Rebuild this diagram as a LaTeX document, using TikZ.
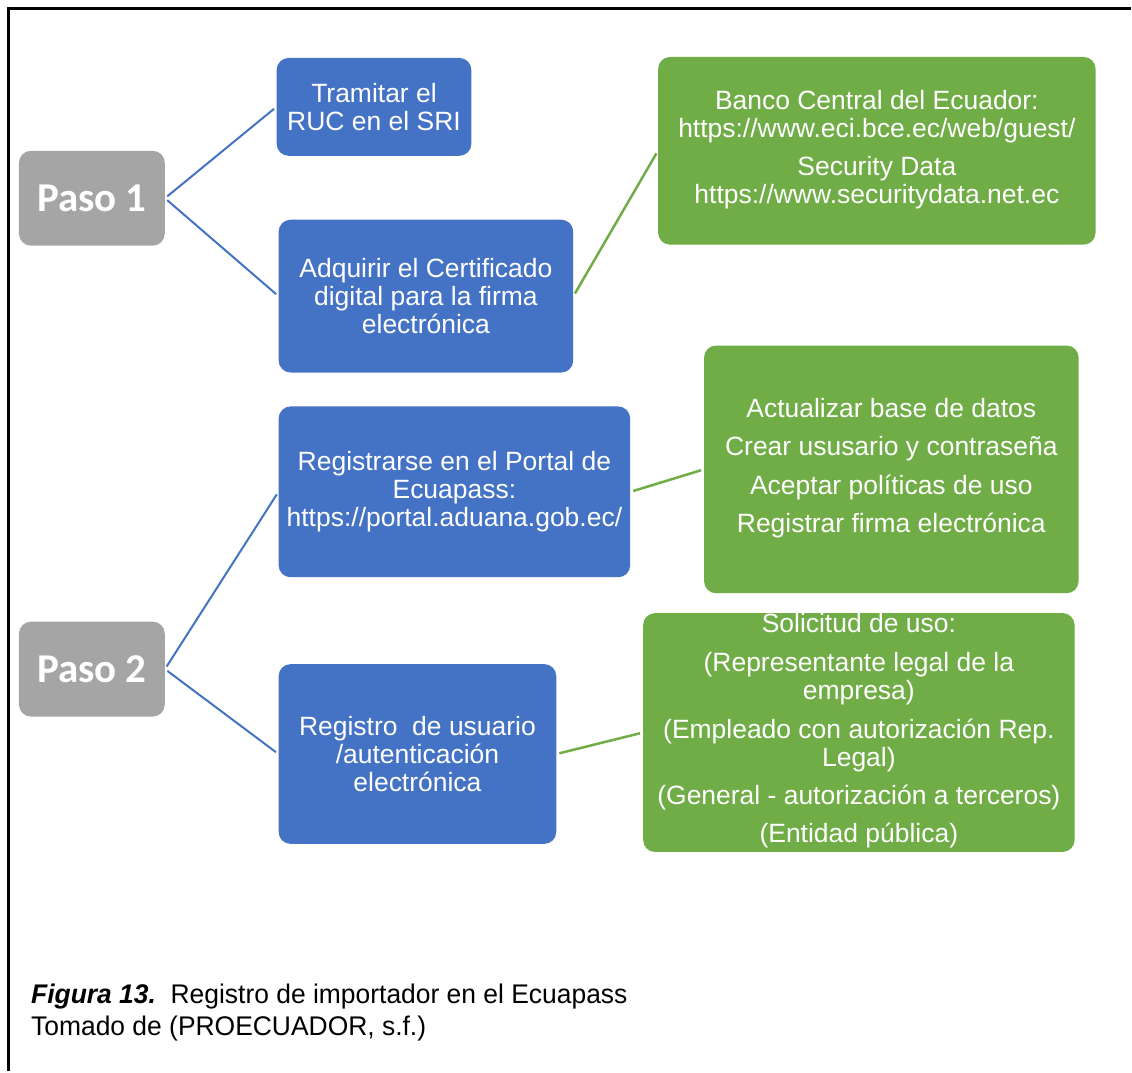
\documentclass[tikz,border=0pt]{standalone}
\usepackage{fontspec}
\setmainfont{Liberation Sans}
\newfontfamily\pasofont{Carlito}
\newfontfamily\capfont[FakeStretch=0.98]{Liberation Sans}
\definecolor{azul}{HTML}{4472C4}
\definecolor{verde}{HTML}{70AD47}
\definecolor{gris}{HTML}{A5A5A5}
\begin{document}
\begin{tikzpicture} [x=1pt, y=-1pt,
	caja/.style={rounded corners=12pt, inner sep=0pt, align=center, text=white, font=\fontsize{26.5}{28}\selectfont},
	paso/.style={caja, fill=gris, minimum width=146pt, minimum height=95pt, font=\pasofont\bfseries\fontsize{41}{44}\selectfont},
	tarea/.style={caja, fill=azul},
	detalle/.style={caja, fill=verde},
	enlace/.style={draw=azul, line width=2pt, shorten <=3pt, shorten >=3pt},
	enlaceverde/.style={enlace, draw=verde, line width=2.5pt}]
	\fill [white] (0,0) rectangle (1132,1072);
	\draw [line width=3pt] (1132,9) -- (9,9) -- (9,1072);
	% pasos
	\node [paso] (paso1) at (92,198.5) {Paso 1};
	\node [paso] (paso2) at (92,670) {Paso 2};
	% tareas
	\node [tarea, minimum width=195pt, minimum height=98pt] (ruc) at (374.5,107) {Tramitar el\\RUC en el SRI};
	\node [tarea, minimum width=295pt, minimum height=153pt] (certificado) at (426.5,296.5) {Adquirir el Certificado\\digital para la firma\\electrónica};
	\node [tarea, minimum width=352pt, minimum height=171pt] (portal) at (455,492.5) {Registrarse en el Portal de\\Ecuapass:\\https://portal.aduana.gob.ec/};
	\node [tarea, minimum width=278pt, minimum height=180pt] (usuario) at (418,755) {Registro\ \ de usuario\\/autenticación\\electrónica};
	% detalles
	\node [detalle, minimum width=438pt, minimum height=188pt, text depth=8pt] (banco) at (878,151) {Banco Central del Ecuador:\\https://www.eci.bce.ec/web/guest/\\[10pt]Security Data\\https://www.securitydata.net.ec};
	\node [detalle, minimum width=375pt, minimum height=248pt, text depth=8pt] (datos) at (892.5,470) {Actualizar base de datos\\[10.5pt]Crear ususario y contraseña\\[10.5pt]Aceptar políticas de uso\\[10.5pt]Registrar firma electrónica};
	\node [detalle, minimum width=432pt, minimum height=235pt, text depth=9pt] (solicitud) at (860,733.5) {Solicitud de uso:\\[11pt](Representante legal de la\\empresa)\\[11pt](Empleado con autorización Rep.\\Legal)\\[10.5pt](General - autorización a terceros)\\[10.5pt](Entidad pública)};
	% enlaces
	\draw [enlace] (paso1.east) -- (ruc.west);
	\draw [enlace] (paso1.east) -- (certificado.west);
	\draw [enlace] (paso2.east) -- (portal.west);
	\draw [enlace] (paso2.east) -- (usuario.west);
	\draw [enlaceverde] (certificado.east) -- (banco.west);
	\draw [enlaceverde] (portal.east) -- (datos.west);
	\draw [enlaceverde] (usuario.east) -- (solicitud.west);
	% pie de figura
	\node [anchor=north west, align=left, inner sep=0pt, font=\capfont\fontsize{27}{32}\selectfont] (pie) at (31,985) {\textbf{\textit{Figura 13.}}\ \ Registro de importador en el Ecuapass\\Tomado de (PROECUADOR, s.f.)};
\end{tikzpicture}
\end{document}
